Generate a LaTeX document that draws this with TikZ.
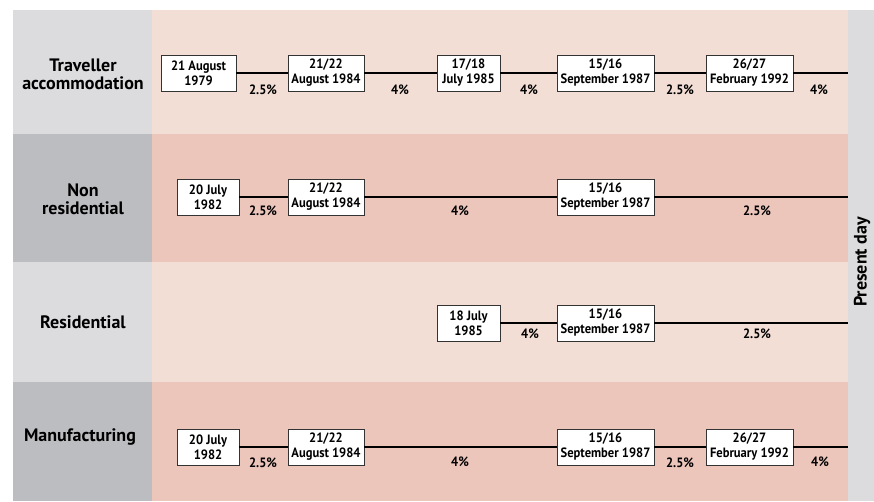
\documentclass[tikz,border=0pt]{standalone}
\usepackage{fontspec}
\setmainfont{PT Sans}
\newfontfamily\boxfont[FakeStretch=0.93]{PT Sans}
\definecolor{graylight}{HTML}{DCDCDE}
\definecolor{graydark}{HTML}{BCBDC1}
\definecolor{pinklight}{HTML}{F3DED6}
\definecolor{pinkdark}{HTML}{ECC5BB}
\tikzset{
  datebox/.style={draw=black!80, line width=0.8pt, fill=white, align=center,
    inner sep=0pt, minimum height=36pt,
    font=\boxfont\bfseries\fontsize{13.5}{15}\selectfont},
  rate/.style={inner sep=0pt, font=\boxfont\bfseries\fontsize{13.5}{15}\selectfont},
  sector/.style={align=center, inner sep=0pt, font=\bfseries\fontsize{18}{18}\selectfont},
  link/.style={line width=2pt}
}
\begin{document}
\begin{tikzpicture}[x=1pt,y=-1pt]
\useasboundingbox (0,0) rectangle (874,501);
\fill[white] (0,0) rectangle (874,501);
% bands
\fill[graylight] (13,10) rectangle (152,134);
\fill[pinklight] (152,10) rectangle (848,134);
\fill[graydark] (13,134) rectangle (152,262);
\fill[pinkdark] (152,134) rectangle (848,262);
\fill[graylight] (13,262) rectangle (152,382);
\fill[pinklight] (152,262) rectangle (848,382);
\fill[graydark] (13,382) rectangle (152,501);
\fill[pinkdark] (152,382) rectangle (848,501);
\fill[graylight] (848,10) rectangle (874,501);

% sector names
\node[sector] (s1) at (83,74) {Traveller\\accommodation};
\node[sector] (s2) at (83,199) {Non\\residential};
\node[sector] (s3) at (83,322) {Residential};
\node[sector] (s4) at (80,437) {Manufacturing};
\node[sector, rotate=90] (now) at (862,262) {Present day};

% Traveller accommodation
\node[datebox, minimum width=75pt] (a1) at (198.5,73) {21 August\\1979};
\node[datebox, minimum width=76pt] (a2) at (326,73) {21/22\\August 1984};
\node[datebox, minimum width=63pt] (a3) at (468.5,73) {17/18\\July 1985};
\node[datebox, minimum width=97pt] (a4) at (605.5,73) {15/16\\September 1987};
\node[datebox, minimum width=87pt] (a5) at (749.5,73) {26/27\\February 1992};
\coordinate (e1) at (848,73);
\draw[link] (a1) -- (a2);
\draw[link] (a2) -- (a3);
\draw[link] (a3) -- (a4);
\draw[link] (a4) -- (a5);
\draw[link] (a5) -- (e1);
\node[rate] (r11) at (263,90) {2.5\%};
\node[rate] (r12) at (400,90) {4\%};
\node[rate] (r13) at (529,90) {4\%};
\node[rate] (r14) at (680,90) {2.5\%};
\node[rate] (r15) at (819,90) {4\%};

% Non residential
\node[datebox, minimum width=62pt] (b1) at (208,197) {20 July\\1982};
\node[datebox, minimum width=76pt] (b2) at (326,197) {21/22\\August 1984};
\node[datebox, minimum width=97pt] (b3) at (605.5,197) {15/16\\September 1987};
\coordinate (e2) at (848,197);
\draw[link] (b1) -- (b2);
\draw[link] (b2) -- (b3);
\draw[link] (b3) -- (e2);
\node[rate] (r21) at (263,211) {2.5\%};
\node[rate] (r22) at (460,211) {4\%};
\node[rate] (r23) at (757,211) {2.5\%};

% Residential
\node[datebox, minimum width=63pt] (c1) at (468.5,323) {18 July\\1985};
\node[datebox, minimum width=97pt] (c2) at (605.5,323) {15/16\\September 1987};
\coordinate (e3) at (848,323);
\draw[link] (c1) -- (c2);
\draw[link] (c2) -- (e3);
\node[rate] (r31) at (530,334) {4\%};
\node[rate] (r32) at (757,334) {2.5\%};

% Manufacturing
\node[datebox, minimum width=62pt] (d1) at (208,447) {20 July\\1982};
\node[datebox, minimum width=76pt] (d2) at (326,447) {21/22\\August 1984};
\node[datebox, minimum width=97pt] (d3) at (605.5,447) {15/16\\September 1987};
\node[datebox, minimum width=87pt] (d4) at (749.5,447) {26/27\\February 1992};
\coordinate (e4) at (848,447);
\draw[link] (d1) -- (d2);
\draw[link] (d2) -- (d3);
\draw[link] (d3) -- (d4);
\draw[link] (d4) -- (e4);
\node[rate] (r41) at (263,463) {2.5\%};
\node[rate] (r42) at (460,462) {4\%};
\node[rate] (r43) at (680,463) {2.5\%};
\node[rate] (r44) at (820,462) {4\%};
\end{tikzpicture}
\end{document}
